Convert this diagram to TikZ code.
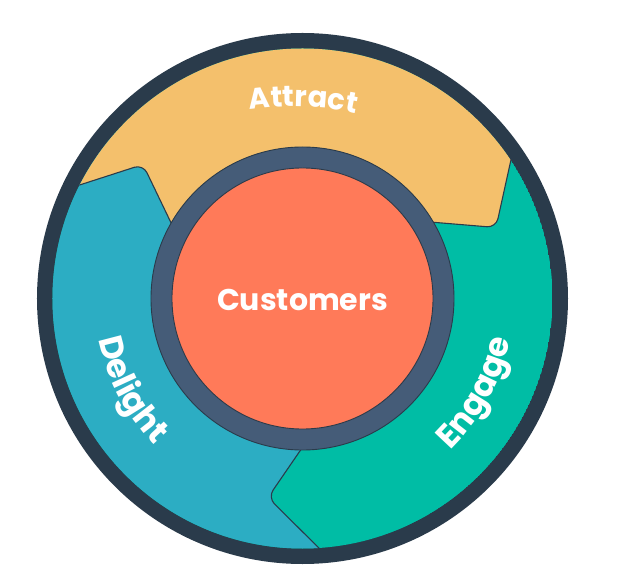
\documentclass[tikz,border=0pt]{standalone}
\usepackage{fontspec}
\setmainfont{Poppins}
\usetikzlibrary{decorations.text}
\definecolor{navyring}{HTML}{2A3B4B}
\definecolor{slatering}{HTML}{455C78}
\definecolor{attractcol}{HTML}{F4C06C}
\definecolor{engagecol}{HTML}{00BDA5}
\definecolor{delightcol}{HTML}{2CADC3}
\definecolor{customercol}{HTML}{FF7A59}
\tikzset{
	wedge/.style={draw=navyring,line width=1.1pt,line join=round},
	arclabel/.style={decorate,decoration={text along path,text align=center,text color=white,
		text={|\fontsize{#1}{#1}\selectfont\bfseries|\labeltext}}}
}
\begin{document}
\begin{tikzpicture}[x=1pt,y=1pt]
	\useasboundingbox (-302.5,-289.5) rectangle (315.5,298.5);
	\def\rout{265.5} \def\rin{250} \def\rring{151.5} \def\rcore{130.5}
	\fill[navyring] (0,0) circle (\rout);
	\begin{scope}
		\clip (0,0) circle (\rin);
		\fill[engagecol] (0,0) circle (\rin);
		% delight wedge, its arrow tip points at engage
		\draw[wedge,fill=delightcol] (17,-124) [rounded corners=9pt] -- (-34.5,-199) [sharp corners] -- (30,-263) -- (-300,-300) -- (-300,200) -- (0,100) -- cycle;
		% attract wedge, tips on both ends
		\draw[wedge,fill=attractcol] (-260,101.5) [rounded corners=9pt] -- (-159.5,134) [sharp corners] -- (-122,56) -- (0,0) -- (97.5,79) [rounded corners=9pt] -- (193.5,71) [sharp corners] -- (214.5,166) -- (214.5,300) -- (-260,300) -- cycle;
	\end{scope}
	\draw[navyring,line width=0.9pt,fill=slatering] (0,0) circle (\rring);
	\draw[navyring,line width=0.9pt,fill=customercol] (0,0) circle (\rcore);
	\node[text=white,font=\fontsize{30}{36}\selectfont\bfseries] (customers) at (0,-1) {Customers};
	\def\labeltext{Attract}
	\path[arclabel=29] ([shift={(-10,-108.3)}]118:300) arc[start angle=118,end angle=58,radius=300];
	\def\labeltext{Delight}
	\path[arclabel=33] (168:208) arc[start angle=168,end angle=248,radius=208];
	\def\labeltext{Engage}
	\path[arclabel=33] (-68.5:212) arc[start angle=-68.5,end angle=11.5,radius=212];
\end{tikzpicture}
\end{document}
